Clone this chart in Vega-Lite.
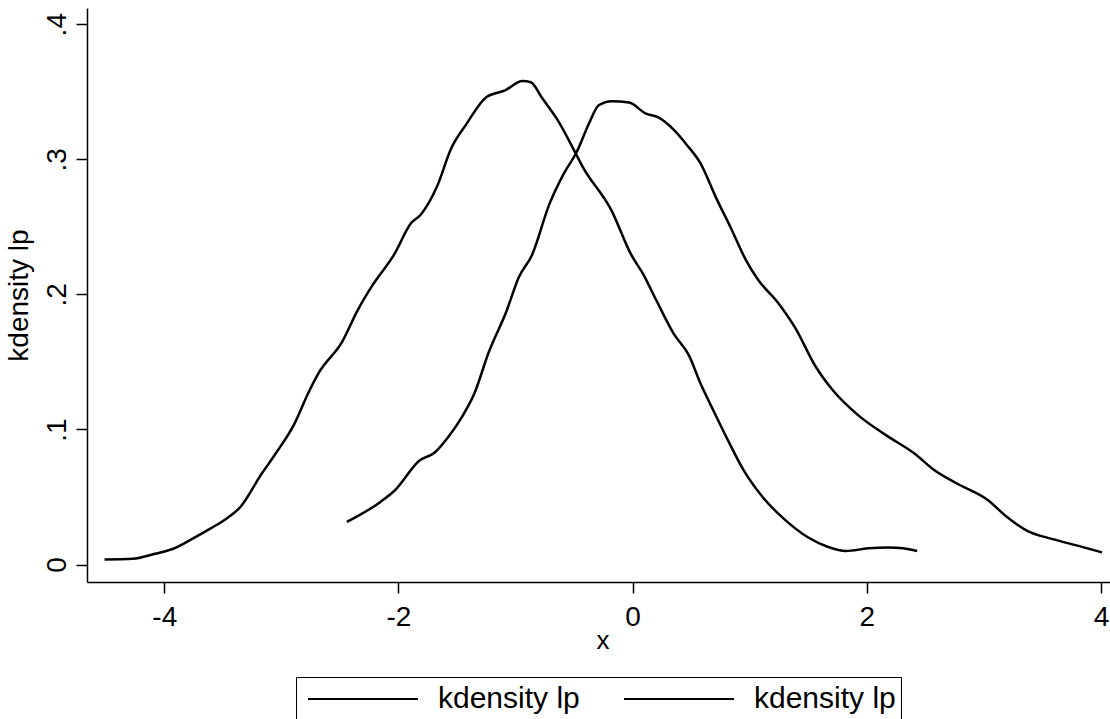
{
  "$schema": "https://vega.github.io/schema/vega-lite/v6.json",
  "autosize": "none",
  "width": 1023,
  "height": 574,
  "padding": {"left": 87, "top": 8, "right": 0, "bottom": 137},
  "background": "white",
  "config": {
    "view": {"stroke": null},
    "font": "Liberation Sans",
    "axis": {"grid": false, "domainColor": "black", "domainWidth": 1.5, "tickColor": "black", "tickWidth": 1.5, "tickSize": 11, "labelColor": "black", "titleColor": "black", "labelFont": "Liberation Sans", "titleFont": "Liberation Sans", "labelFontSize": 28, "titleFontWeight": "normal"}
  },
  "data": {
    "values": [
      {"s": "A", "x": -4.51, "y": 0.0038},
      {"s": "A", "x": -4.27, "y": 0.0043},
      {"s": "A", "x": -4.08, "y": 0.008},
      {"s": "A", "x": -3.93, "y": 0.0115},
      {"s": "A", "x": -3.75, "y": 0.0196},
      {"s": "A", "x": -3.6, "y": 0.027},
      {"s": "A", "x": -3.47, "y": 0.034},
      {"s": "A", "x": -3.35, "y": 0.0426},
      {"s": "A", "x": -3.17, "y": 0.067},
      {"s": "A", "x": -3.05, "y": 0.082},
      {"s": "A", "x": -2.89, "y": 0.104},
      {"s": "A", "x": -2.77, "y": 0.127},
      {"s": "A", "x": -2.68, "y": 0.142},
      {"s": "A", "x": -2.48, "y": 0.165},
      {"s": "A", "x": -2.35, "y": 0.188},
      {"s": "A", "x": -2.22, "y": 0.207},
      {"s": "A", "x": -2.04, "y": 0.229},
      {"s": "A", "x": -1.89, "y": 0.253},
      {"s": "A", "x": -1.81, "y": 0.259},
      {"s": "A", "x": -1.67, "y": 0.28},
      {"s": "A", "x": -1.55, "y": 0.308},
      {"s": "A", "x": -1.42, "y": 0.326},
      {"s": "A", "x": -1.25, "y": 0.346},
      {"s": "A", "x": -1.09, "y": 0.351},
      {"s": "A", "x": -0.94, "y": 0.358},
      {"s": "A", "x": -0.87, "y": 0.357},
      {"s": "A", "x": -0.77, "y": 0.345},
      {"s": "A", "x": -0.64, "y": 0.329},
      {"s": "A", "x": -0.49, "y": 0.305},
      {"s": "A", "x": -0.43, "y": 0.295},
      {"s": "A", "x": -0.18, "y": 0.262},
      {"s": "A", "x": -0.01, "y": 0.229},
      {"s": "A", "x": 0.09, "y": 0.215},
      {"s": "A", "x": 0.2, "y": 0.196},
      {"s": "A", "x": 0.35, "y": 0.171},
      {"s": "A", "x": 0.48, "y": 0.155},
      {"s": "A", "x": 0.58, "y": 0.134},
      {"s": "A", "x": 0.69, "y": 0.114},
      {"s": "A", "x": 0.82, "y": 0.091},
      {"s": "A", "x": 0.94, "y": 0.071},
      {"s": "A", "x": 1.11, "y": 0.05},
      {"s": "A", "x": 1.29, "y": 0.034},
      {"s": "A", "x": 1.5, "y": 0.02},
      {"s": "A", "x": 1.67, "y": 0.013},
      {"s": "A", "x": 1.82, "y": 0.01},
      {"s": "A", "x": 2.01, "y": 0.012},
      {"s": "A", "x": 2.18, "y": 0.0127},
      {"s": "A", "x": 2.31, "y": 0.012},
      {"s": "A", "x": 2.43, "y": 0.01},
      {"s": "B", "x": -2.44, "y": 0.0316},
      {"s": "B", "x": -2.16, "y": 0.046},
      {"s": "B", "x": -2.03, "y": 0.055},
      {"s": "B", "x": -1.82, "y": 0.077},
      {"s": "B", "x": -1.69, "y": 0.083},
      {"s": "B", "x": -1.57, "y": 0.095},
      {"s": "B", "x": -1.46, "y": 0.109},
      {"s": "B", "x": -1.35, "y": 0.127},
      {"s": "B", "x": -1.23, "y": 0.157},
      {"s": "B", "x": -1.08, "y": 0.187},
      {"s": "B", "x": -0.97, "y": 0.213},
      {"s": "B", "x": -0.86, "y": 0.229},
      {"s": "B", "x": -0.71, "y": 0.267},
      {"s": "B", "x": -0.59, "y": 0.289},
      {"s": "B", "x": -0.48, "y": 0.305},
      {"s": "B", "x": -0.37, "y": 0.327},
      {"s": "B", "x": -0.29, "y": 0.34},
      {"s": "B", "x": -0.18, "y": 0.343},
      {"s": "B", "x": -0.03, "y": 0.342},
      {"s": "B", "x": 0.11, "y": 0.334},
      {"s": "B", "x": 0.22, "y": 0.331},
      {"s": "B", "x": 0.35, "y": 0.322},
      {"s": "B", "x": 0.46, "y": 0.311},
      {"s": "B", "x": 0.58, "y": 0.297},
      {"s": "B", "x": 0.71, "y": 0.272},
      {"s": "B", "x": 0.84, "y": 0.249},
      {"s": "B", "x": 0.97, "y": 0.225},
      {"s": "B", "x": 1.07, "y": 0.211},
      {"s": "B", "x": 1.24, "y": 0.194},
      {"s": "B", "x": 1.39, "y": 0.175},
      {"s": "B", "x": 1.56, "y": 0.147},
      {"s": "B", "x": 1.71, "y": 0.129},
      {"s": "B", "x": 1.92, "y": 0.111},
      {"s": "B", "x": 2.16, "y": 0.096},
      {"s": "B", "x": 2.41, "y": 0.082},
      {"s": "B", "x": 2.56, "y": 0.071},
      {"s": "B", "x": 2.77, "y": 0.06},
      {"s": "B", "x": 3.03, "y": 0.048},
      {"s": "B", "x": 3.2, "y": 0.035},
      {"s": "B", "x": 3.37, "y": 0.025},
      {"s": "B", "x": 3.58, "y": 0.019},
      {"s": "B", "x": 3.8, "y": 0.014},
      {"s": "B", "x": 4.01, "y": 0.009}
    ]
  },
  "mark": {"type": "line", "strokeWidth": 2.5, "interpolate": "monotone"},
  "encoding": {
    "x": {
      "field": "x", "type": "quantitative",
      "scale": {"domain": [-4.66, 4.077], "nice": false, "zero": false},
      "axis": {
        "values": [-4, -2, 0, 2, 4],
        "labelExpr": "'' + datum.value",
        "labelPadding": 10,
        "labelFlush": false,
        "labelOverlap": false,
        "title": "x",
        "titleFontSize": 26,
        "titleX": 515.5,
        "titleY": 66,
        "titleBaseline": "alphabetic",
        "titleAlign": "center"
      }
    },
    "y": {
      "field": "y", "type": "quantitative",
      "scale": {"domain": [-0.0129, 0.412], "nice": false, "zero": false},
      "axis": {
        "values": [0, 0.1, 0.2, 0.3, 0.4],
        "labelExpr": "datum.value === 0 ? '0' : '.' + round(datum.value * 10)",
        "labelAngle": -90,
        "labelAlign": "center",
        "labelBaseline": "alphabetic",
        "labelPadding": 11,
        "labelFlush": false,
        "labelOverlap": false,
        "title": "kdensity lp",
        "titleFontSize": 28,
        "titleAngle": 270,
        "titleX": -54,
        "titleY": 287,
        "titleBaseline": "bottom",
        "titleAlign": "center"
      }
    },
    "color": {
      "field": "s", "type": "nominal",
      "scale": {"domain": ["A", "B"], "range": ["black", "black"]},
      "legend": {
        "title": null,
        "orient": "none",
        "legendX": 209,
        "legendY": 669,
        "direction": "horizontal",
        "strokeColor": "black",
        "padding": 5,
        "symbolType": "M-0.625,0H6.25",
        "symbolSize": 1024,
        "symbolStrokeWidth": 2,
        "symbolOffset": 0,
        "labelExpr": "'kdensity lp'",
        "labelFont": "Liberation Sans",
        "labelFontSize": 30,
        "labelColor": "black",
        "labelOffset": 103,
        "columnPadding": 37
      }
    }
  }
}
